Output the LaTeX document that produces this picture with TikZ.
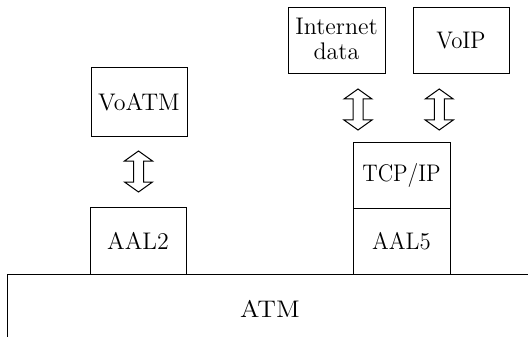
\documentclass[tikz,border=0pt]{standalone}
\usepackage{graphicx}
\usetikzlibrary{calc}
\newcommand{\txt}[2][2]{\scalebox{#1}[2]{#2}}
\begin{document}
\begin{tikzpicture}[x=1pt,y=-1pt,
  every node/.style={font=\fontsize{12}{14.5}\selectfont},
  box/.style={draw,line width=1pt,inner sep=0pt,minimum width=96pt,minimum height=66pt,align=center},
  hollowarrow/.pic={\draw[line width=1pt,fill=white,line join=miter]
     (0,-20.5) -- (14,-10.5) -- (5,-10.5) -- (5,10.5) -- (14,10.5) -- (0,20.5)
     -- (-14,10.5) -- (-5,10.5) -- (-5,-10.5) -- (-14,-10.5) -- cycle;}]
\useasboundingbox (0,0) rectangle (528,337);
% ATM base (cut off on right and bottom)
\draw[line width=1pt] (7,337) -- (7,274) -- (528,274);
\node (ATM) at (270,309) {\txt[2.2]{ATM}};
% left stack
\node[box,minimum height=68pt] (VoATM) at (139,102) {\txt{VoATM}};
\node[box,minimum height=67pt] (AAL2) at (138,240.5) {\txt{AAL2}};
% right stack
\node[box,minimum width=97pt] (Inet) at (336.5,41) {\txt{\begin{tabular}{@{}c@{}}Internet\\[-2pt]data\end{tabular}}};
\node[box] (VoIP) at (461,41) {\txt[1.9]{VoIP}};
\node[box,minimum width=97pt] (TCP) at (401.5,175) {\txt[1.82]{TCP/IP}};
\node[box,minimum width=97pt] (AAL5) at (401.5,241) {\txt[1.9]{AAL5}};
% arrows
\pic at ($(VoATM.south)!0.5!(AAL2.north)$) {hollowarrow};
\pic at ($(Inet.south)!0.5!(TCP.north)+(-11,1.5)$) {hollowarrow};
\pic at ($(VoIP.south)!0.5!(TCP.north)+(8,1.5)$) {hollowarrow};
\end{tikzpicture}
\end{document}
